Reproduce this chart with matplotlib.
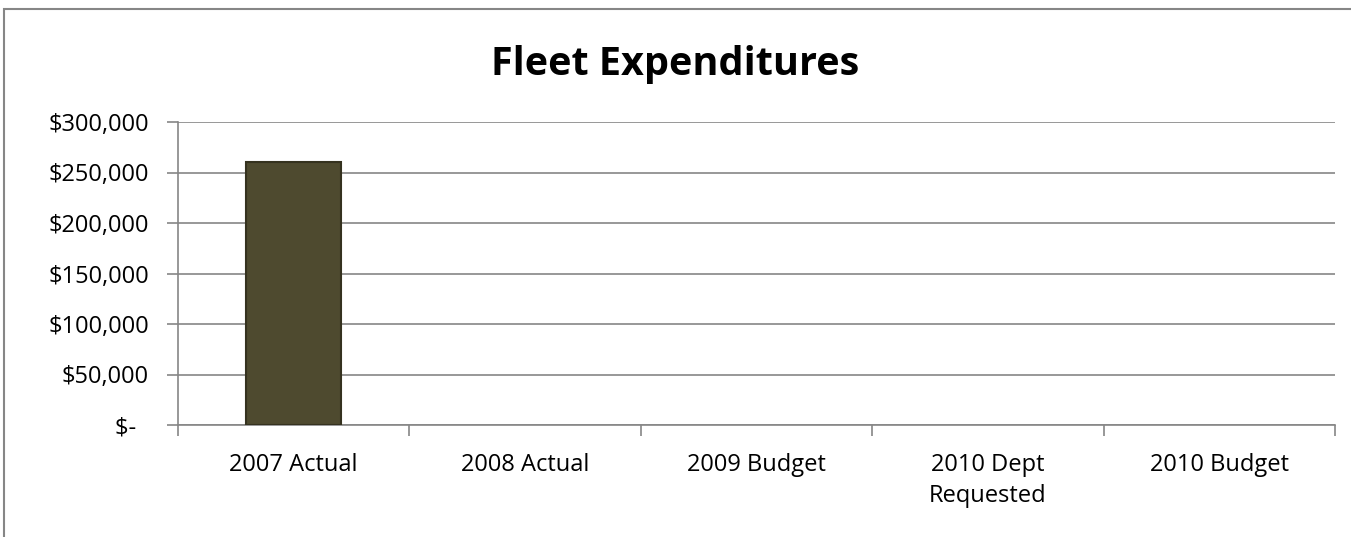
import matplotlib
matplotlib.use("Agg")
import matplotlib.pyplot as plt
from matplotlib.patches import Rectangle
from matplotlib.ticker import FuncFormatter, FixedLocator

categories = ["2007 Actual", "2008 Actual", "2009 Budget", "2010 Dept\nRequested", "2010 Budget"]
values = [260000, 0, 0, 0, 0]
yticks = [0, 50000, 100000, 150000, 200000, 250000, 300000]

plt.rcParams['font.family'] = ['Open Sans', 'DejaVu Sans']

fig = plt.figure(figsize=(13.51, 5.37), dpi=100)
ax = fig.add_axes([178/1351, 1-425/537, (1335-178)/1351, (425-122)/537])

x = list(range(len(categories)))
edges = ['#35321f' if v > 0 else 'none' for v in values]
ax.bar(x, values, width=0.41, color='#4E4A2F', edgecolor=edges, linewidth=1.5, zorder=3)

ax.set_xlim(-0.5, len(categories)-0.5)
ax.set_ylim(0, 300000)
ax.set_yticks(yticks)
def fmt(v, p):
    if v == 0:
        return "$-  "
    return "${:,.0f}".format(v)
ax.yaxis.set_major_formatter(FuncFormatter(fmt))
ax.grid(axis='y', color='#868686', linewidth=1.2, zorder=0)
ax.set_xticks(x)
ax.set_xticklabels(categories, fontsize=17, linespacing=1.4)
ax.xaxis.set_minor_locator(FixedLocator([i-0.5 for i in range(len(categories)+1)]))
ax.tick_params(axis='x', which='major', length=0, pad=20)
ax.tick_params(axis='x', which='minor', length=8, color='#868686', width=1.2)
ax.tick_params(axis='y', length=8, color='#868686', width=1.2, labelsize=17, pad=13)
for s in ['top', 'right']:
    ax.spines[s].set_visible(False)
for s in ['left', 'bottom']:
    ax.spines[s].set_color('#868686')
    ax.spines[s].set_linewidth(1.2)

fig.text(0.5, 1-75/537, "Fleet Expenditures", ha='center', va='baseline', fontsize=28.5, fontweight='bold')

fig.patches.append(Rectangle((4/1351, -0.1), 1.2, 1-9/537+0.1, transform=fig.transFigure,
                             fill=False, edgecolor='#868686', linewidth=1.5))

fig.savefig("out.png", dpi=100)
